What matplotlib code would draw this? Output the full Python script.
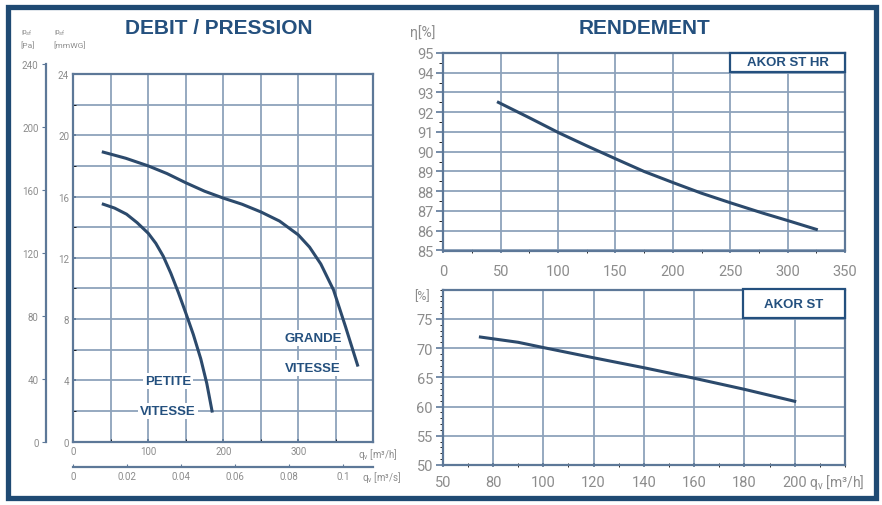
import numpy as np
import matplotlib.pyplot as plt
from matplotlib.patches import Rectangle
from matplotlib.ticker import MultipleLocator

# --- data ---
q_grande = [40, 70, 100, 125, 150, 175, 200, 225, 250, 275, 300, 315, 330, 347, 363, 379]
p_grande = [18.9, 18.5, 18.0, 17.5, 16.9, 16.35, 15.9, 15.5, 15.0, 14.4, 13.5, 12.7, 11.6, 9.9, 7.5, 5.0]
q_petite = [40, 55, 71, 85, 100, 110, 120, 130, 140, 150, 160, 170, 178, 185]
p_petite = [15.5, 15.25, 14.85, 14.3, 13.6, 12.95, 12.1, 11.0, 9.75, 8.4, 7.0, 5.4, 3.8, 2.0]

q_hr = [48, 75, 101, 125, 151, 175, 201, 225, 251, 278, 301, 325]
eta_hr = [92.5, 91.72, 90.95, 90.3, 89.62, 89.0, 88.42, 87.9, 87.4, 86.9, 86.5, 86.07]

q_st = [75, 90, 100, 120, 140, 160, 180, 200]
eta_st = [71.9, 71.0, 70.1, 68.35, 66.65, 64.85, 62.95, 60.9]

st_xticks = [60, 80, 100, 120, 140, 160, 180, 200]
st_xlabels = ['50', '80', '100', '120', '140', '160', '180', '200']
ms_ticks = [0, 0.02, 0.04, 0.06, 0.08, 0.1]
ms_labels = ['0', '0.02', '0.04', '0.06', '0.08', '0.1']

W, H = 882, 506
NAVY = '#24507e'
LINE = '#2c4a6c'
GRID = '#8ea3bb'
SPINE = '#5d7898'
TICK = '#8c8c8c'
TFONT = 'Roboto'


def px(x, y):
    return x / W, 1 - y / H


def box(x0, y0, x1, y1):
    return [x0 / W, 1 - y1 / H, (x1 - x0) / W, (y1 - y0) / H]


def style(ax, size):
    for s in ax.spines.values():
        s.set_color(SPINE)
        s.set_linewidth(1.6)
    ax.tick_params(colors=SPINE, labelcolor=TICK, labelsize=size, width=1.2)
    for lab in ax.get_xticklabels() + ax.get_yticklabels():
        lab.set_family(TFONT)
    ax.grid(True, which='both', color=GRID, linewidth=1.3)
    ax.set_axisbelow(True)


fig = plt.figure(figsize=(W / 100, H / 100), dpi=100)

# outer frame
fig.patches.append(Rectangle((7.5 / W, 1 - 498.5 / H), 868 / W, 491 / H,
                             transform=fig.transFigure, fill=False,
                             edgecolor='#1f4a73', linewidth=3.8))

# ---------------- DEBIT / PRESSION ----------------
ax = fig.add_axes(box(73.3, 75, 373.3, 442.7))
ax.set_xlim(0, 400)
ax.set_ylim(0, 24)
ax.xaxis.set_major_locator(MultipleLocator(100))
ax.xaxis.set_minor_locator(MultipleLocator(50))
ax.yaxis.set_major_locator(MultipleLocator(4))
ax.yaxis.set_minor_locator(MultipleLocator(2))
ax.set_xticks([0, 100, 200, 300])
ax.set_xticklabels(['0', '100', '200', '300'])
ax.tick_params(axis='both', which='both', length=2, direction='in', pad=3)
style(ax, 7)
ax.plot(q_grande, p_grande, color=LINE, linewidth=2.2)
ax.plot(q_petite, p_petite, color=LINE, linewidth=2.2)

lab_kw = dict(color=NAVY, fontsize=9.5, fontweight='bold', family='Liberation Sans',
              ha='center', va='center',
              bbox=dict(facecolor='white', edgecolor='none', pad=1.5))
fig.text(*px(313, 339), 'GRANDE', **lab_kw)
fig.text(*px(313, 369), 'VITESSE', **lab_kw)
fig.text(*px(168, 382), 'PETITE', **lab_kw)
fig.text(*px(168, 412), 'VITESSE', **lab_kw)

# m3/s secondary axis
sec = ax.secondary_xaxis(-0.068, functions=(lambda q: q / 3600, lambda s: s * 3600))
sec.set_xticks(ms_ticks)
sec.set_xticklabels(ms_labels)
sec.spines['bottom'].set_color(SPINE)
sec.spines['bottom'].set_linewidth(1.6)
sec.tick_params(colors=SPINE, labelcolor=TICK, labelsize=7, length=2, direction='in', pad=3)
for lab in sec.get_xticklabels():
    lab.set_family(TFONT)

unit_kw = dict(color=TICK, fontsize=7, family=TFONT, va='center')
fig.text(*px(358, 454), r'q$_\mathregular{v}$ [m³/h]', **unit_kw)
fig.text(*px(362, 478), r'q$_\mathregular{v}$ [m³/s]', **unit_kw)

# Pa axis
axp = fig.add_axes(box(45.5, 65, 46, 442.7))
axp.set_ylim(0, 240)
axp.yaxis.set_major_locator(MultipleLocator(40))
axp.set_xticks([])
for s in ['top', 'right', 'bottom']:
    axp.spines[s].set_visible(False)
axp.spines['left'].set_color(SPINE)
axp.spines['left'].set_linewidth(1.6)
axp.patch.set_alpha(0)
axp.tick_params(axis='y', colors=SPINE, labelcolor=TICK, labelsize=7, length=3, pad=2)
for lab in axp.get_yticklabels():
    lab.set_family(TFONT)

small = dict(color=TICK, fontsize=6, family=TFONT, va='center')
fig.text(*px(21, 33), r'p$_\mathregular{sf}$', **small)
fig.text(*px(20, 45), '[Pa]', **small)
fig.text(*px(54, 33), r'p$_\mathregular{sf}$', **small)
fig.text(*px(53, 45), '[mmWG]', **small)

fig.text(*px(219, 28), 'DEBIT / PRESSION', color=NAVY, fontsize=15, fontweight='bold',
         family='Liberation Sans', ha='center', va='center')
fig.text(*px(645, 28), 'RENDEMENT', color=NAVY, fontsize=15, fontweight='bold',
         family='Liberation Sans', ha='center', va='center')

# ---------------- RENDEMENT AKOR ST HR ----------------
ax1 = fig.add_axes(box(443.3, 54, 845, 251.5))
ax1.set_xlim(0, 350)
ax1.set_ylim(85, 95)
ax1.xaxis.set_major_locator(MultipleLocator(50))
ax1.xaxis.set_minor_locator(MultipleLocator(25))
ax1.yaxis.set_major_locator(MultipleLocator(1))
ax1.yaxis.set_minor_locator(MultipleLocator(0.5))
style(ax1, 10.5)
ax1.grid(False, which='minor')
ax1.tick_params(axis='y', which='major', length=5, pad=2)
ax1.tick_params(axis='y', which='minor', length=3)
ax1.tick_params(axis='x', which='both', length=3, direction='inout', pad=8)
ax1.plot(q_hr, eta_hr, color=LINE, linewidth=2.2)
fig.text(*px(410, 33), 'η[%]', color=TICK, fontsize=10, family=TFONT, va='center')

fig.patches.append(Rectangle((730 / W, 1 - 73 / H), 115 / W, 19 / H,
                             transform=fig.transFigure, facecolor='white',
                             edgecolor=NAVY, linewidth=1.6, zorder=5))
fig.text(*px(787.5, 63.5), 'AKOR ST HR', color=NAVY, fontsize=9.5, fontweight='bold',
         family='Liberation Sans', ha='center', va='center', zorder=6)

# ---------------- RENDEMENT AKOR ST ----------------
ax2 = fig.add_axes(box(442.7, 290.7, 845, 466))
ax2.set_xlim(60, 220)
ax2.set_ylim(50, 80)
ax2.set_xticks(st_xticks)
ax2.set_xticklabels(st_xlabels)
ax2.xaxis.set_minor_locator(MultipleLocator(10))
ax2.set_yticks([50, 55, 60, 65, 70, 75])
ax2.yaxis.set_minor_locator(MultipleLocator(1))
style(ax2, 10.5)
ax2.grid(False, which='minor')
ax2.grid(True, which='major', axis='x', color=GRID, linewidth=1.3)
ax2.tick_params(axis='y', which='major', length=5, pad=2)
ax2.tick_params(axis='y', which='minor', length=2)
ax2.tick_params(axis='x', which='both', length=3, direction='inout', pad=6)
ax2.plot(q_st, eta_st, color=LINE, linewidth=2.2)
fig.text(*px(414, 297), '[%]', color=TICK, fontsize=9, family=TFONT, va='center')
fig.text(*px(809, 483), r'q$_\mathregular{v}$ [m³/h]', color=TICK, fontsize=10,
         family=TFONT, va='center')

fig.patches.append(Rectangle((742.7 / W, 1 - 319.3 / H), 102.3 / W, 29.3 / H,
                             transform=fig.transFigure, facecolor='white',
                             edgecolor=NAVY, linewidth=1.6, zorder=5))
fig.text(*px(794, 305), 'AKOR ST', color=NAVY, fontsize=9.5, fontweight='bold',
         family='Liberation Sans', ha='center', va='center', zorder=6)

fig.savefig('out.png', dpi=100)
